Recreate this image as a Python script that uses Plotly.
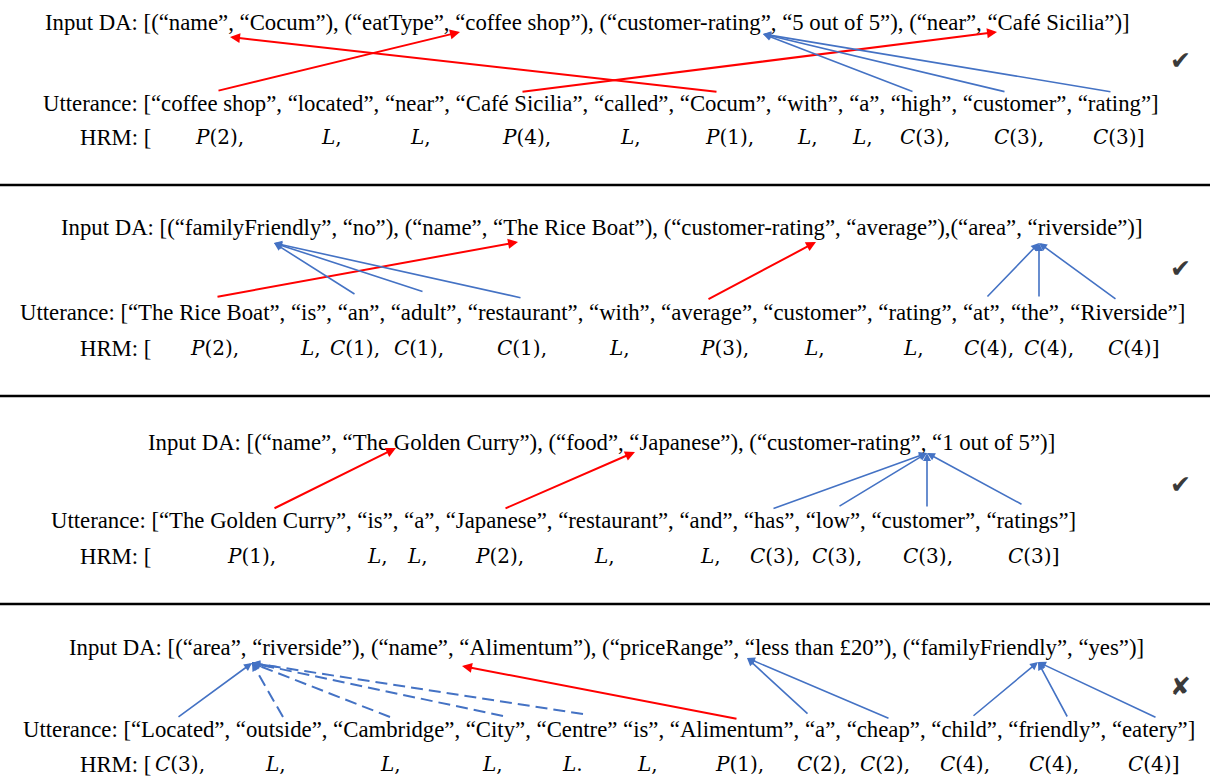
import plotly.graph_objects as go

W, H = 1210, 779
SERIF = "Liberation Serif"
MATH = "DejaVu Serif"
RED = "#FF0000"
BLUE = "#4472C4"

# ---------------- content ----------------
da_texts = [
    "Input DA: [(“name”, “Cocum”), (“eatType”, “coffee shop”), (“customer-rating”, “5 out of 5”), (“near”, “Café Sicilia”)]",
    "Input DA: [(“familyFriendly”, “no”), (“name”, “The Rice Boat”), (“customer-rating”, “average”),(“area”, “riverside”)]",
    "Input DA: [(“name”, “The Golden Curry”), (“food”, “Japanese”), (“customer-rating”, “1 out of 5”)]",
    "Input DA: [(“area”, “riverside”), (“name”, “Alimentum”), (“priceRange”, “less than £20”), (“familyFriendly”, “yes”)]",
]
utter_texts = [
    "Utterance: [“coffee shop”, “located”, “near”, “Café Sicilia”, “called”, “Cocum”, “with”, “a”, “high”, “customer”, “rating”]",
    "Utterance: [“The Rice Boat”, “is”, “an”, “adult”, “restaurant”, “with”, “average”, “customer”, “rating”, “at”, “the”, “Riverside”]",
    "Utterance: [“The Golden Curry”, “is”, “a”, “Japanese”, “restaurant”, “and”, “has”, “low”, “customer”, “ratings”]",
    "Utterance: [“Located”, “outside”, “Cambridge”, “City”, “Centre” “is”, “Alimentum”, “a”, “cheap”, “child”, “friendly”, “eatery”]",
]
hrm_tokens = [
    ["P(2)", "L", "L", "P(4)", "L", "P(1)", "L", "L", "C(3)", "C(3)", "C(3)"],
    ["P(2)", "L", "C(1)", "C(1)", "C(1)", "L", "P(3)", "L", "L", "C(4)", "C(4)", "C(4)"],
    ["P(1)", "L", "L", "P(2)", "L", "L", "C(3)", "C(3)", "C(3)", "C(3)"],
    ["C(3)", "L", "L", "L", "L.", "L", "P(1)", "C(2)", "C(2)", "C(4)", "C(4)", "C(4)"],
]
verdicts = ["✔", "✔", "✔", "✘"]

# links: (utterance-token label, DA target label, kind)  kind: P=red, C=blue, D=blue dashed
links = [
    [("coffee shop", "coffee shop", "P"), ("Cocum", "name", "P"), ("Café Sicilia", "Café Sicilia", "P"),
     ("high", "customer-rating", "C"), ("customer", "customer-rating", "C"), ("rating", "customer-rating", "C")],
    [("The Rice Boat", "The Rice Boat", "P"), ("average", "customer-rating", "P"),
     ("an", "familyFriendly", "C"), ("adult", "familyFriendly", "C"), ("restaurant", "familyFriendly", "C"),
     ("at", "riverside", "C"), ("the", "riverside", "C"), ("Riverside", "riverside", "C")],
    [("The Golden Curry", "The Golden Curry", "P"), ("Japanese", "Japanese", "P"),
     ("has", "customer-rating", "C"), ("low", "customer-rating", "C"), ("customer", "customer-rating", "C"),
     ("ratings", "customer-rating", "C")],
    [("Located", "riverside", "C"), ("outside", "riverside", "D"), ("Cambridge", "riverside", "D"),
     ("City", "riverside", "D"), ("Centre", "riverside", "D"), ("Alimentum", "Alimentum", "P"),
     ("a", "less than £20", "C"), ("cheap", "less than £20", "C"),
     ("child", "familyFriendly", "C"), ("friendly", "familyFriendly", "C"), ("eatery", "familyFriendly", "C")],
]

# ---------------- layout (pixel geometry) ----------------
row_y = [(22, 103, 137), (227, 312, 348), (442, 520, 556), (647, 729, 764)]
da_cx = [587, 601, 601, 606]
ut_cx = [601, 602, 563, 609]
hrm_x = [
    [219, 331, 420, 526, 630, 729, 807, 862, 925, 1019, 1118],
    [214, 310, 355, 419, 522, 619, 724, 814, 913, 989, 1049, 1133],
    [251, 377, 417, 499, 604, 710, 775, 837, 928, 1033],
    [180, 275, 390, 492, 572, 647, 739, 822, 885, 965, 1054, 1153],
]
sep_y = [185, 396, 604]
verdict_y = [60, 268, 484, 686]
# anchor points of link ends: utterance side (tail), DA side (tip)
tail_pts = [
    {"coffee shop": (217, 91), "Cocum": (718, 92), "Café Sicilia": (521, 92),
     "high": (914, 92), "customer": (1006, 92), "rating": (1112, 92)},
    {"The Rice Boat": (216, 297), "average": (707, 300), "an": (356, 295), "adult": (424, 292),
     "restaurant": (522, 298), "at": (986, 298), "the": (1039, 298), "Riverside": (1117, 300)},
    {"The Golden Curry": (273, 509), "Japanese": (504, 509), "has": (772, 509), "low": (838, 507),
     "customer": (927, 508), "ratings": (1023, 505)},
    {"Located": (177, 718), "outside": (283, 717), "Cambridge": (390, 717), "City": (503, 716),
     "Centre": (583, 714), "Alimentum": (738, 719), "a": (809, 715), "cheap": (890, 719),
     "child": (972, 717), "friendly": (1068, 718), "eatery": (1157, 718)},
]
tip_pts = [
    {"coffee shop": (460, 32), "name": (230, 37), "Café Sicilia": (997, 32), "customer-rating": (763, 34)},
    {"The Rice Boat": (518, 242), "customer-rating": (816, 242), "familyFriendly": (274, 243),
     "riverside": (1039, 243)},
    {"The Golden Curry": (396, 448), "Japanese": (635, 452), "customer-rating": (927, 453)},
    {"riverside": (252, 663), "Alimentum": (462, 666), "less than £20": (747, 658),
     "familyFriendly": (1038, 662)},
]

FS = 22.75
HFS = 20

fig = go.Figure()
ann = []
shapes = []

for i in range(4):
    yd, yu, yh = row_y[i]
    ann.append(dict(x=da_cx[i], y=yd, text=da_texts[i], showarrow=False,
                    font=dict(family=SERIF, size=FS, color="black"), xanchor="center", yanchor="middle"))
    ann.append(dict(x=ut_cx[i], y=yu, text=utter_texts[i], showarrow=False,
                    font=dict(family=SERIF, size=FS, color="black"), xanchor="center", yanchor="middle"))
    ann.append(dict(x=78, y=yh, text="HRM: [", showarrow=False,
                    font=dict(family=SERIF, size=FS, color="black"), xanchor="left", yanchor="middle"))
    n = len(hrm_tokens[i])
    for k, (tok, x) in enumerate(zip(hrm_tokens[i], hrm_x[i])):
        letter, rest = tok[0], tok[1:]
        suffix = "]" if k == n - 1 else ("" if rest.endswith(".") else ",")
        ann.append(dict(x=x, y=yh, text=f"<i>{letter}</i>{rest}{suffix}", showarrow=False,
                        font=dict(family=MATH, size=HFS, color="black"), xanchor="center", yanchor="middle"))
    ann.append(dict(x=1180, y=verdict_y[i], text=verdicts[i], showarrow=False,
                    font=dict(family="DejaVu Sans", size=25, color="#3a3a3a"), xanchor="center", yanchor="middle"))

    for src, dst, kind in links[i]:
        tx, ty = tail_pts[i][src]
        hx, hy = tip_pts[i][dst]
        color = RED if kind == "P" else BLUE
        width = 2 if kind == "P" else 1.6
        if kind == "D":
            fig.add_trace(go.Scatter(x=[tx, hx], y=[ty, hy], mode="lines",
                                     line=dict(color=BLUE, width=2, dash="12px,6px"),
                                     hoverinfo="skip", showlegend=False))
            fx = hx + (tx - hx) * 0.08
            fy = hy + (ty - hy) * 0.08
            ann.append(dict(x=hx, y=hy, ax=fx, ay=fy, axref="x", ayref="y", xref="x", yref="y",
                            text="", showarrow=True, arrowhead=2, arrowsize=1, arrowwidth=width,
                            arrowcolor=BLUE, standoff=0))
        else:
            ann.append(dict(x=hx, y=hy, ax=tx, ay=ty, axref="x", ayref="y", xref="x", yref="y",
                            text="", showarrow=True, arrowhead=2, arrowsize=1, arrowwidth=width,
                            arrowcolor=color, standoff=0))

for y in sep_y:
    shapes.append(dict(type="line", x0=0, x1=W, y0=y, y1=y, xref="x", yref="y",
                       line=dict(color="black", width=2.5)))

fig.update_layout(
    width=W, height=H, margin=dict(l=0, r=0, t=0, b=0),
    paper_bgcolor="white", plot_bgcolor="white",
    xaxis=dict(range=[0, W], visible=False, fixedrange=True),
    yaxis=dict(range=[H, 0], visible=False, fixedrange=True),
    annotations=ann, shapes=shapes, showlegend=False,
)
fig.write_html("out.html", config={"displayModeBar": False},
               post_script="document.body.style.margin='0';document.body.style.overflow='hidden';")
